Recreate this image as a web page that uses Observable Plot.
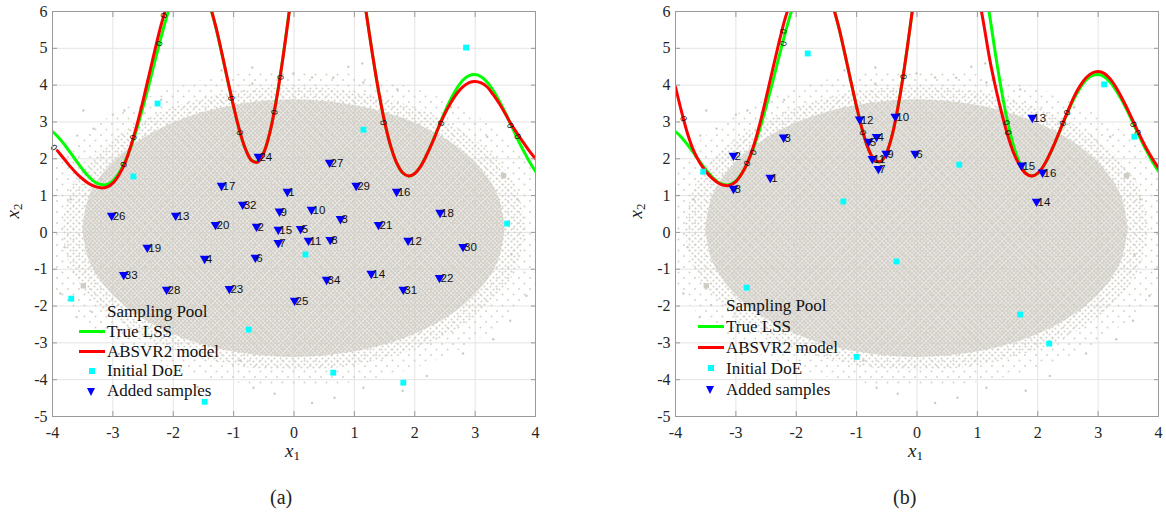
<!DOCTYPE html>
<html><head><meta charset="utf-8">
<script src="https://cdn.jsdelivr.net/npm/d3@7"></script>
<script src="https://cdn.jsdelivr.net/npm/@observablehq/plot@0.6"></script>
<style>
body{margin:0;background:#fff;font-family:'Liberation Serif';}
#wrap{position:relative;width:1166px;height:518px;overflow:hidden;font-family:'Liberation Serif';}
.panel{position:absolute;top:0;width:583px;height:518px;}
g[aria-label="pool-core"]{filter:blur(1.5px);}
.legend{position:absolute;font-size:17px;color:#111;font-family:'Liberation Serif';}
.legend .row{position:relative;height:20px;line-height:20px;padding-left:28px;white-space:nowrap;}
.legend .sw{position:absolute;left:0;top:50%;}
.legend .ln{width:26px;height:3px;margin-top:-1.5px;}
.legend .sq{width:6px;height:6px;left:10px;margin-top:-3px;background:#00ffff;}
.legend .pt{width:2px;height:2px;left:12px;margin-top:-1px;background:#d3d0c8;}
.legend .tri{left:8px;margin-top:-3px;width:0;height:0;border-left:4.5px solid transparent;border-right:4.5px solid transparent;border-top:8px solid #0000ff;}
.lab{position:absolute;color:#222;font-family:'Liberation Serif';}
.xl{font-size:19px;}
.xl i{font-style:italic;}
.xl sub{font-size:13px;position:relative;top:3px;vertical-align:baseline;}
.yl{font-size:19px;transform:rotate(-90deg);transform-origin:center;}
.yl sub{font-size:13px;position:relative;top:3px;vertical-align:baseline;}
.cap{font-size:20px;}
</style></head>
<body>
<svg width="0" height="0" style="position:absolute">
 <defs>
  <pattern id="stipA" width="4" height="4" patternUnits="userSpaceOnUse">
   <rect width="4" height="4" fill="#d3d0c8" fill-opacity="0.55"/>
   <circle cx="1" cy="1" r="1.1" fill="#d3d0c8"/>
   <circle cx="3" cy="3" r="1.1" fill="#d3d0c8"/>
  </pattern>
  <pattern id="stipB" width="6" height="6" patternUnits="userSpaceOnUse">
   <circle cx="1.5" cy="1.5" r="1.05" fill="#d3d0c8"/>
   <circle cx="4.5" cy="4.5" r="1.05" fill="#d3d0c8"/>
  </pattern>
  <pattern id="stipC" width="11" height="11" patternUnits="userSpaceOnUse">
   <circle cx="2" cy="3" r="0.95" fill="#d3d0c8"/>
   <circle cx="7.5" cy="8.5" r="0.95" fill="#d3d0c8"/>
  </pattern>
 </defs>
</svg>
<div id="wrap"></div>
<script>
// ---------------- data ----------------
const xTicks = [-4,-3,-2,-1,0,1,2,3,4];
const yTicks = [-5,-4,-3,-2,-1,0,1,2,3,4,5,6];

// True LSS (same in both panels); null = curve leaves through the top edge
const lssX1 = [-4,-3.9,-3.8,-3.7,-3.6,-3.5,-3.4,-3.3,-3.2,-3.1,-3,-2.9,-2.8,-2.7,-2.6,-2.5,-2.4,-2.3,-2.2,-2.1,-2,null,
  -1.4,-1.3,-1.2,-1.1,-1,-0.9,-0.8,-0.7,-0.6,-0.5,-0.4,-0.3,-0.2,-0.1,0,null,
  1.1,1.2,1.3,1.4,1.5,1.6,1.7,1.8,1.9,2,2.1,2.2,2.3,2.4,2.5,2.6,2.7,2.8,2.9,3,3.1,3.2,3.3,3.4,3.5,3.6,3.7,3.8,3.9,4];
const lssX2 = [2.74,2.58,2.38,2.16,1.93,1.71,1.52,1.37,1.30,1.30,1.40,1.61,1.92,2.33,2.83,3.41,4.03,4.68,5.31,5.90,6.40,null,
  6.20,5.60,4.89,4.14,3.41,2.75,2.25,1.96,1.93,2.18,2.72,3.54,4.57,5.75,7.0,null,
  7.07,5.93,4.84,3.85,3.01,2.35,1.89,1.62,1.53,1.60,1.81,2.12,2.49,2.89,3.28,3.63,3.92,4.14,4.26,4.29,4.23,4.08,3.85,3.57,3.25,2.90,2.55,2.22,1.92,1.66];

// ABSVR2 model, panel (a)
const modelA_X1 = [-3.92,-3.8,-3.7,-3.6,-3.5,-3.4,-3.3,-3.2,-3.1,-3,-2.9,-2.8,-2.7,-2.6,-2.5,-2.4,-2.3,-2.2,-2.1,-2,null,
  -1.4,-1.3,-1.2,-1.1,-1,-0.9,-0.8,-0.7,-0.6,-0.5,-0.4,-0.3,-0.2,-0.1,0,null,
  1.1,1.2,1.3,1.4,1.5,1.6,1.7,1.8,1.9,2,2.1,2.2,2.3,2.4,2.5,2.6,2.7,2.8,2.9,3,3.1,3.2,3.3,3.4,3.5,3.6,3.7,3.8,3.9,4];
const modelA_X2 = [2.22,1.98,1.78,1.60,1.45,1.33,1.25,1.21,1.23,1.34,1.56,1.88,2.36,2.93,3.58,4.28,4.98,5.64,6.20,6.75,null,
  6.22,5.62,4.91,4.15,3.42,2.76,2.25,1.95,1.91,2.17,2.71,3.52,4.55,5.73,7.0,null,
  7.05,5.92,4.83,3.85,3.01,2.35,1.89,1.62,1.53,1.60,1.80,2.11,2.47,2.87,3.23,3.53,3.78,3.96,4.07,4.10,4.06,3.95,3.74,3.50,3.22,2.93,2.68,2.44,2.21,2.00];

// ABSVR2 model, panel (b)
const modelB_X1 = [-4,-3.9,-3.8,-3.7,-3.6,-3.5,-3.4,-3.3,-3.2,-3.1,-3,-2.9,-2.8,-2.7,-2.6,-2.5,-2.4,-2.3,-2.2,-2.1,-2,null,
  -1.4,-1.3,-1.2,-1.1,-1,-0.9,-0.8,-0.7,-0.6,-0.5,-0.4,-0.3,-0.2,-0.1,0,null,
  1,1.1,1.2,1.3,1.4,1.5,1.6,1.7,1.8,1.9,2,2.1,2.2,2.3,2.4,2.5,2.6,2.7,2.8,2.9,3,3.1,3.2,3.3,3.4,3.5,3.6,3.7,3.8,3.9,4];
const modelB_X2 = [3.95,3.28,2.68,2.22,1.90,1.66,1.48,1.35,1.28,1.28,1.38,1.60,1.92,2.38,2.97,3.65,4.36,5.06,5.72,6.25,6.80,null,
  6.20,5.60,4.89,4.14,3.41,2.75,2.25,1.96,1.93,2.18,2.72,3.54,4.57,5.75,7.0,null,
  6.60,5.71,4.74,3.95,3.26,2.65,2.16,1.83,1.60,1.53,1.61,1.82,2.13,2.50,2.90,3.30,3.68,3.98,4.20,4.33,4.37,4.32,4.17,3.93,3.63,3.30,2.95,2.60,2.28,2.00,1.75];

// Initial DoE
const doeA_X1 = [-2.26,-2.66,-3.69,-0.75,-1.48,0.65,1.81,0.19,1.15,2.85,3.53];
const doeA_X2 = [3.50,1.52,-1.80,-2.64,-4.60,-3.81,-4.08,-0.60,2.79,5.02,0.24];
const doeB_X1 = [-1.81,-3.54,-1.22,-0.34,-2.82,-1.00,0.70,3.10,3.60,1.71,2.19];
const doeB_X2 = [4.86,1.65,0.84,-0.79,-1.50,-3.38,1.84,4.02,2.60,-2.23,-3.02];

// Added samples (label = index + 1)
const addA_X1 = [-0.11,-0.62,0.77,-1.48,0.11,-0.64,-0.26,0.60,-0.24,0.29,0.24,1.89,-1.96,1.28,-0.26,1.70,-1.20,2.42,-2.43,-1.30,1.40,2.41,-1.07,-0.59,0.01,-3.02,0.59,-2.11,1.03,2.80,1.81,-0.85,-2.82,0.54];
const addA_X2 = [1.11,0.16,0.37,-0.71,0.10,-0.68,-0.28,-0.20,0.57,0.62,-0.22,-0.22,0.46,-1.12,0.08,1.11,1.27,0.54,-0.41,0.21,0.21,-1.23,-1.53,2.06,-1.85,0.46,1.90,-1.55,1.27,-0.39,-1.55,0.76,-1.15,-1.28];
const addB_X1 = [-2.43,-3.04,-2.21,-0.67,-0.80,-0.03,-0.64,-3.04,-0.51,-0.36,-0.74,-0.95,1.91,1.98,1.73,2.08];
const addB_X2 = [1.49,2.09,2.58,2.60,2.47,2.14,1.73,1.19,2.14,3.15,2.00,3.07,3.12,0.84,1.82,1.63];

// inline contour labels "0" on the LSS curves: position and rotation
const zeroA_X1 = [-3.98,-2.82,-2.66,-2.23,-2.15,-1.04,-0.90,-0.32,-0.22,1.48,2.44,3.58,3.70];
const zeroA_X2 = [2.30,1.84,2.58,5.13,5.89,3.64,2.71,3.26,4.21,2.98,2.96,2.90,2.60];
const zeroA_Rot = [51,-63,-72,-75,-75,77,75,-80,-83,79,-67,63,63];
const zeroB_X1 = [-3.87,-2.71,-2.81,-2.21,-2.21,-0.90,-0.22,1.48,1.51,2.49,2.42,3.58,3.65];
const zeroB_X2 = [3.09,2.17,1.87,5.46,5.13,2.71,4.23,2.98,2.71,3.25,2.96,2.93,2.71];
const zeroB_Rot = [75,-70,-63,-75,-75,75,-83,79,79,-67,-67,63,63];

// Sampling pool: density bands (x, lower edge, upper edge), read from the cloud
const poolCoreX  = [-3.2,-3.1,-2.9,-2.6,-2.2,-1.8,-1.3,-0.8,-0.3,0.3,0.8,1.3,1.8,2.2,2.6,2.9,3.1,3.2];
const poolCoreLo = [0.1,-0.69,-1.25,-1.77,-2.22,-2.55,-2.82,-3.0,-3.09,-3.09,-3.0,-2.82,-2.55,-2.22,-1.77,-1.25,-0.69,0.1];
const poolCoreHi = [0.1,0.89,1.45,1.97,2.42,2.75,3.02,3.2,3.29,3.29,3.2,3.02,2.75,2.42,1.97,1.45,0.89,0.1];
const poolMidX  = [-3.5,-3.4,-3.2,-2.9,-2.5,-2,-1.5,-1,-0.5,0,0.5,1,1.5,2,2.5,2.9,3.2,3.4,3.5];
const poolMidLo = [0.1,-0.73,-1.32,-1.86,-2.35,-2.77,-3.06,-3.25,-3.36,-3.4,-3.36,-3.25,-3.06,-2.77,-2.35,-1.86,-1.32,-0.73,0.1];
const poolMidHi = [0.1,0.93,1.52,2.06,2.55,2.97,3.26,3.45,3.56,3.6,3.56,3.45,3.26,2.97,2.55,2.06,1.52,0.93,0.1];
const poolEdgeX  = [-3.85,-3.7,-3.5,-3.2,-2.8,-2.3,-1.7,-1,-0.3,0.3,1,1.7,2.3,2.8,3.2,3.5,3.7,3.85];
const poolEdgeLo = [0.1,-0.96,-1.50,-2.04,-2.54,-2.99,-3.35,-3.62,-3.74,-3.74,-3.62,-3.35,-2.99,-2.54,-2.04,-1.50,-0.96,0.1];
const poolEdgeHi = [0.1,1.16,1.70,2.24,2.74,3.19,3.55,3.82,3.94,3.94,3.82,3.55,3.19,2.74,2.24,1.70,1.16,0.1];
const poolTailX  = [-4,-3.7,-3.3,-2.8,-2.2,-1.5,-0.8,0,0.8,1.5,2.2,2.8,3.3,3.7,4];
const poolTailLo = [-1.48,-2.09,-2.66,-3.16,-3.59,-3.93,-4.12,-4.2,-4.12,-3.93,-3.59,-3.16,-2.66,-2.09,-1.48];
const poolTailHi = [1.68,2.29,2.86,3.36,3.79,4.13,4.32,4.4,4.32,4.13,3.79,3.36,2.86,2.29,1.68];
// isolated pool points
const poolOutX1 = [-3.32,-3.59,-2.81,-0.69,-0.01,1.13,0.65,1.71,-0.19,-0.32,0.30,0.67,1.15,2.80,3.58,3.85,-0.67,-0.89,-3.87,-0.69,0.30,1.15,-3.49,-3.7,-3.8,-3.6,3.7,3.6,3.3,-2.9,-2.2,2.2,1.8,-1.6,-3.0,-2.2,2.6,3.2,-1.2,0.9];
const poolOutX2 = [2.82,2.63,3.31,4.48,4.32,4.59,4.20,3.88,4.29,-4.38,-4.63,-4.49,-4.22,-3.29,-2.40,-1.72,-4.22,-3.48,-1.66,4.04,4.21,4.07,3.31,0.9,-0.4,-2.3,0.9,-0.6,-2.9,-3.3,-3.8,-3.9,-4.3,-4.2,3.2,3.6,3.4,2.6,4.4,4.5];
const poolBigX1 = [3.47,-3.49];
const poolBigX2 = [1.54,-1.45];

// ---------------- helpers ----------------
const pts = (xs, ys) => xs.map((x, i) => ({x, y: ys[i]}));
const band = (xs, lo, hi) => xs.map((x, i) => ({x, lo: lo[i], hi: hi[i]}));
const labeled = (xs, ys) => xs.map((x, i) => ({x, y: ys[i], n: String(i + 1)}));
const rotated = (xs, ys, rs) => xs.map((x, i) => ({x, y: ys[i], rot: rs[i]}));

const lss = pts(lssX1, lssX2);
const fmt = d => String(d);
const frameGray = "#9a9a9a";
const serif = "'Liberation Serif'";
const sans = "'Liberation Sans'";

function panel({model, doe, added, zeros, ml, mr}) {
  const svg = Plot.plot({
    width: 583, height: 518,
    marginLeft: ml, marginRight: mr, marginTop: 11, marginBottom: 102,
    x: {domain: [-4, 4], label: null},
    y: {domain: [-5, 6], label: null},
    style: {fontFamily: serif, fontSize: "16px", color: "#262626", background: "transparent", overflow: "visible"},
    marks: [
      Plot.gridX(xTicks, {stroke: "#e4e4e4", strokeOpacity: 1}),
      Plot.gridY(yTicks, {stroke: "#e4e4e4", strokeOpacity: 1}),
      Plot.areaY(band(poolTailX, poolTailLo, poolTailHi), {x: "x", y1: "lo", y2: "hi", fill: "url(#stipC)", curve: "catmull-rom"}),
      Plot.areaY(band(poolEdgeX, poolEdgeLo, poolEdgeHi), {x: "x", y1: "lo", y2: "hi", fill: "url(#stipB)", curve: "catmull-rom"}),
      Plot.areaY(band(poolMidX, poolMidLo, poolMidHi), {x: "x", y1: "lo", y2: "hi", fill: "url(#stipA)", curve: "catmull-rom"}),
      Plot.areaY(band(poolCoreX, poolCoreLo, poolCoreHi), {x: "x", y1: "lo", y2: "hi", fill: "#d2cfc6", curve: "catmull-rom", ariaLabel: "pool-core"}),
      Plot.dot(pts(poolOutX1, poolOutX2), {x: "x", y: "y", r: 1.2, fill: "#cdcac1"}),
      Plot.dot(pts(poolBigX1, poolBigX2), {x: "x", y: "y", symbol: "square", r: 3, fill: "#cfccc4"}),
      Plot.line(lss, {x: "x", y: "y", stroke: "#00ff00", strokeWidth: 3, curve: "catmull-rom", clip: true}),
      Plot.line(model, {x: "x", y: "y", stroke: "#ff0000", strokeWidth: 3, curve: "catmull-rom", clip: true}),
      Plot.text(zeros, {x: "x", y: "y", text: () => "0", rotate: "rot", fontSize: 9, fontFamily: sans, fill: "#111"}),
      Plot.dot(doe, {x: "x", y: "y", symbol: "square", r: 3.3, fill: "#00ffff"}),
      Plot.dot(added, {x: "x", y: "y", symbol: "triangle", rotate: 180, r: 3.6, fill: "#0000ff"}),
      Plot.text(added, {x: "x", y: "y", text: "n", textAnchor: "start", dx: 1, dy: 1, fontSize: 11.5, fontFamily: sans, fill: "#111"}),
      Plot.axisX(xTicks, {anchor: "bottom", tickSize: 0, tickPadding: 10, tickFormat: fmt, fontSize: 16, fontFamily: serif, label: null}),
      Plot.axisY(yTicks, {anchor: "left", tickSize: 0, tickPadding: 5, tickFormat: fmt, fontSize: 16, fontFamily: serif, label: null}),
      Plot.axisX(xTicks, {anchor: "bottom", tickSize: -5, fill: "none", stroke: frameGray, label: null}),
      Plot.axisX(xTicks, {anchor: "top", tickSize: -5, fill: "none", stroke: frameGray, label: null}),
      Plot.axisY(yTicks, {anchor: "left", tickSize: -5, fill: "none", stroke: frameGray, label: null}),
      Plot.axisY(yTicks, {anchor: "right", tickSize: -5, fill: "none", stroke: frameGray, label: null}),
      Plot.frame({stroke: frameGray})
    ]
  });
  svg.style.fontFamily = "'Liberation Serif'";
  return svg;
}

const wrap = document.getElementById("wrap");
const panels = [
  {left: 0, model: pts(modelA_X1, modelA_X2), doe: pts(doeA_X1, doeA_X2), added: labeled(addA_X1, addA_X2),
   zeros: rotated(zeroA_X1, zeroA_X2, zeroA_Rot), ml: 52, mr: 48},
  {left: 583, model: pts(modelB_X1, modelB_X2), doe: pts(doeB_X1, doeB_X2), added: labeled(addB_X1, addB_X2),
   zeros: rotated(zeroB_X1, zeroB_X2, zeroB_Rot), ml: 92, mr: 8}
];
for (const p of panels) {
  const div = document.createElement("div");
  div.className = "panel";
  div.style.left = p.left + "px";
  div.appendChild(panel(p));
  wrap.appendChild(div);
}

// legends, axis titles, captions (HTML overlays)
const legendItems = [
  {label: "Sampling Pool", cls: "pt"},
  {label: "True LSS", cls: "ln", color: "#00ff00"},
  {label: "ABSVR2 model", cls: "ln", color: "#ff0000"},
  {label: "Initial DoE", cls: "sq"},
  {label: "Added samples", cls: "tri"}
];
function addLegend(left, top, rowH) {
  const lg = document.createElement("div");
  lg.className = "legend";
  lg.style.left = left + "px";
  lg.style.top = top + "px";
  lg.style.fontFamily = "'Liberation Serif'";
  for (const it of legendItems) {
    const row = document.createElement("div");
    row.className = "row";
    row.style.height = rowH + "px";
    row.style.lineHeight = rowH + "px";
    const sw = document.createElement("span");
    sw.className = "sw " + it.cls;
    if (it.color) sw.style.background = it.color;
    row.appendChild(sw);
    row.appendChild(document.createTextNode(it.label));
    lg.appendChild(row);
  }
  wrap.appendChild(lg);
}
addLegend(79, 302, 19.75);
addLegend(698, 294.5, 21);

function addLab(cls, html, left, top) {
  const d = document.createElement("div");
  d.className = "lab " + cls;
  d.innerHTML = html;
  d.style.left = left + "px";
  d.style.top = top + "px";
  d.style.fontFamily = "'Liberation Serif'";
  wrap.appendChild(d);
}
addLab("xl", "<i>x</i><sub>1</sub>", 285, 440);
addLab("xl", "<i>x</i><sub>1</sub>", 908, 440);
addLab("yl", "<i>x</i><sub>2</sub>", 6, 200);
addLab("yl", "<i>x</i><sub>2</sub>", 629, 200);
addLab("cap", "(a)", 270, 486);
addLab("cap", "(b)", 893, 486);
</script>
</body></html>
